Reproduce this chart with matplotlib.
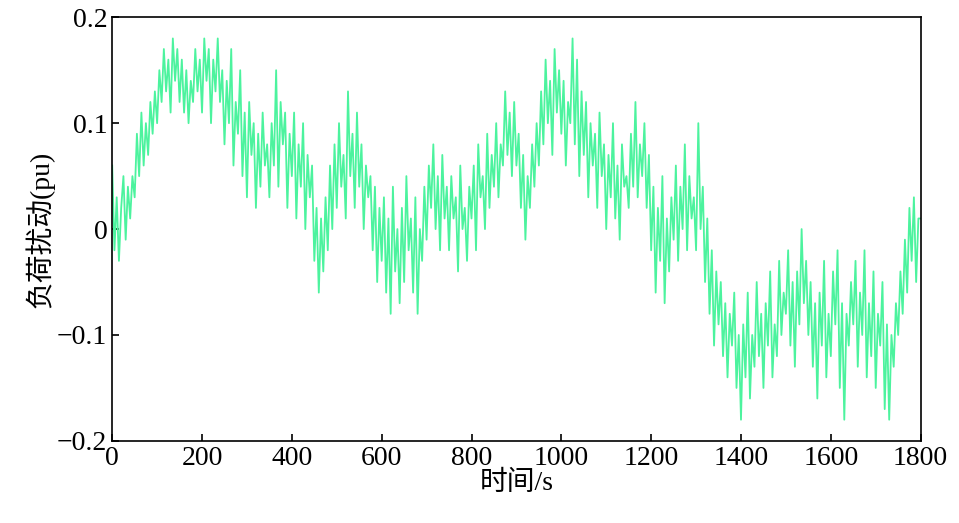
import numpy as np
import matplotlib
matplotlib.use("Agg")
import matplotlib.pyplot as plt

plt.rcParams['font.family'] = ['Liberation Serif', 'Noto Sans CJK SC']
plt.rcParams['axes.unicode_minus'] = False

load = [
0.06,-0.02,0.03,-0.03,0.02,0.05,-0.01,0.04,0.01,0.05,
0.03,0.09,0.05,0.11,0.06,0.10,0.07,0.12,0.09,0.13,
0.10,0.15,0.12,0.17,0.13,0.16,0.11,0.18,0.14,0.17,
0.12,0.16,0.11,0.15,0.10,0.14,0.12,0.17,0.13,0.16,
0.11,0.18,0.14,0.17,0.10,0.16,0.13,0.18,0.12,0.15,
0.08,0.14,0.10,0.17,0.06,0.12,0.09,0.15,0.05,0.11,
0.03,0.12,0.07,0.10,0.02,0.09,0.04,0.11,0.06,0.08,
0.03,0.10,0.06,0.15,0.04,0.12,0.08,0.11,0.02,0.09,
0.05,0.11,0.01,0.08,0.04,0.10,0.00,0.07,0.03,0.06,
-0.03,0.02,-0.06,0.01,-0.04,0.03,-0.02,0.06,0.00,0.08,
0.02,0.10,0.04,0.07,0.01,0.13,0.05,0.09,0.02,0.11,
0.04,0.08,0.00,0.06,0.03,0.05,-0.02,0.04,-0.05,0.02,
-0.03,0.03,-0.06,0.01,-0.08,0.04,-0.04,0.00,-0.07,0.02,
-0.05,0.05,-0.02,0.01,-0.06,0.03,-0.08,0.00,-0.03,0.04,
-0.01,0.06,0.02,0.08,0.00,0.05,-0.02,0.07,0.01,0.04,
-0.02,0.05,0.01,0.03,-0.04,0.06,0.00,0.02,-0.03,0.04,
0.01,0.06,-0.02,0.08,0.03,0.05,0.00,0.09,0.02,0.07,
0.04,0.10,0.03,0.08,0.06,0.13,0.07,0.11,0.05,0.12,
0.06,0.09,0.02,0.07,-0.01,0.05,0.02,0.08,0.04,0.10,
0.06,0.13,0.08,0.16,0.10,0.14,0.07,0.17,0.11,0.15,
0.09,0.14,0.06,0.12,0.10,0.18,0.08,0.16,0.05,0.13,
0.07,0.12,0.03,0.10,0.06,0.09,0.02,0.11,0.05,0.08,
0.00,0.07,0.03,0.10,0.01,0.06,-0.01,0.08,0.04,0.05,
0.02,0.09,0.04,0.12,0.03,0.08,0.05,0.10,0.02,0.07,
-0.02,0.04,-0.06,0.02,-0.03,0.05,-0.07,0.01,-0.04,0.03,
-0.01,0.06,-0.03,0.04,0.00,0.08,-0.02,0.05,0.01,0.03,
-0.02,0.10,0.00,0.04,-0.05,0.01,-0.08,-0.02,-0.11,-0.04,
-0.09,-0.05,-0.12,-0.07,-0.14,-0.08,-0.11,-0.06,-0.15,-0.10,
-0.18,-0.09,-0.14,-0.06,-0.16,-0.10,-0.13,-0.05,-0.12,-0.08,
-0.15,-0.07,-0.11,-0.04,-0.14,-0.09,-0.12,-0.03,-0.10,-0.06,
-0.08,-0.02,-0.11,-0.05,-0.13,-0.04,-0.09,0.00,-0.07,-0.03,
-0.10,-0.05,-0.13,-0.07,-0.16,-0.06,-0.11,-0.03,-0.14,-0.08,
-0.12,-0.04,-0.09,-0.02,-0.15,-0.07,-0.18,-0.08,-0.11,-0.05,
-0.09,-0.03,-0.13,-0.06,-0.10,-0.02,-0.14,-0.07,-0.12,-0.04,
-0.15,-0.08,-0.11,-0.05,-0.17,-0.09,-0.18,-0.10,-0.13,-0.07,
-0.10,-0.04,-0.08,-0.01,-0.06,0.02,-0.03,0.03,-0.05,0.01,
0.01]
time = np.arange(len(load)) * 5

xticks = [0, 200, 400, 600, 800, 1000, 1200, 1400, 1600, 1800]
yticks = [-0.2, -0.1, 0, 0.1, 0.2]
yticklabels = ['−0.2', '−0.1', '0', '0.1', '0.2']

fig = plt.figure(figsize=(9.59, 5.23), dpi=100)
ax = fig.add_axes([0.117, 0.157, 0.843, 0.81])
ax.plot(time, load, color='#4CF39E', lw=1.3)
ax.set_xlim(0, 1800)
ax.set_ylim(-0.2, 0.2)
ax.set_xticks(xticks)
ax.set_yticks(yticks)
ax.set_yticklabels(yticklabels)
ax.tick_params(direction='in', labelsize=20, length=5, width=1.2)
for s in ax.spines.values():
    s.set_linewidth(1.2)
ax.set_xlabel('时间/s', fontsize=20, labelpad=0)
ax.set_ylabel('负荷扰动(pu)', fontsize=20, labelpad=2)
fig.savefig('out.png', dpi=100)
